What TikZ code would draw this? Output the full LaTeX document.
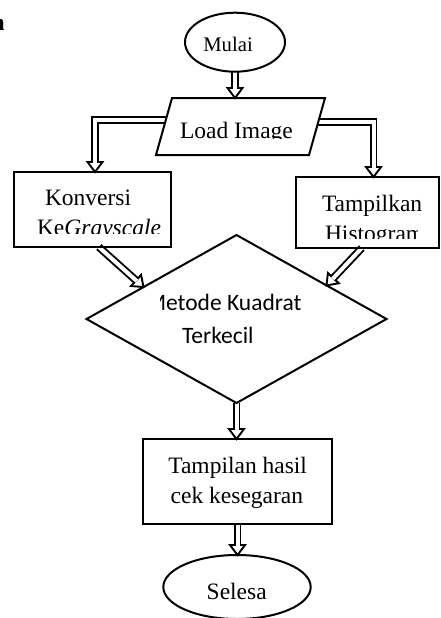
\documentclass[tikz,border=0pt]{standalone}
\usepackage{fontspec}
\setmainfont{Liberation Serif}
\newfontfamily\calib{Carlito}
\usetikzlibrary{calc,shapes.geometric,backgrounds}
\tikzset{
  shapeline/.style={draw, line width=2pt, inner sep=0pt, outer sep=0pt},
  boxnode/.style={shapeline, rectangle},
  ovalnode/.style={shapeline, ellipse},
  txt/.style={inner sep=0pt, outer sep=0pt, anchor=base west, font=\fontsize{23.5}{28}\selectfont},
  shaft/.style={double=white, double distance=4pt, line width=1.9pt, line join=miter},
  headstyle/.style={fill=white, draw=black, line width=1.9pt, line join=miter},
}
\newcommand\blk[3]{%
  \coordinate (hb) at ($(#2)!10pt!(#3)$);
  \filldraw[headstyle] ($(hb)!7.5pt!90:(#2)$) -- (#2) -- ($(hb)!7.5pt!-90:(#2)$) -- cycle;
  \draw[shaft] #1 -- ($(hb)!1pt!(#2)$);
}
\begin{document}
\begin{tikzpicture}[x=1pt,y=-1pt]
\useasboundingbox (0,0) rectangle (440,618);
% cut-off letter at top left
\node[txt, font=\bfseries\fontsize{23.5}{28}\selectfont] (nletter) at (-8.5,31) {n};
% Mulai
\node[ovalnode, minimum width=100pt, minimum height=59pt] (mulai) at (235,42.2) {};
\node[txt, font=\fontsize{20.7}{25}\selectfont] (tmulai) at (203.3,51.7) {Mulai};
% Load Image parallelogram
\coordinate (pTL) at (172,98);
\coordinate (pTR) at (325,98);
\coordinate (pBR) at (309,155);
\coordinate (pBL) at (156,155);
\draw[line width=2pt, line join=miter] (pTL) -- (pTR) -- (pBR) -- (pBL) -- cycle;
\begin{scope}
  \clip (150,100) rectangle (320,138.5);
  \node[txt] (tload) at (180,138.6) {Load Image};
\end{scope}
% Konversi
\node[boxnode, minimum width=157pt, minimum height=75pt] (konv) at (92.5,209.5) {};
\node[txt] (tkonv1) at (45,205) {Konversi};
\begin{scope}
  \clip (20,212) rectangle (168,233.8);
  \node[txt] (tkonv2) at (37,235.5) {Ke\textit{Grayscale}};
\end{scope}
% Tampilkan Histogram
\node[boxnode, minimum width=143pt, minimum height=71pt] (tamp) at (367.5,212.5) {};
\node[txt] (ttamp1) at (322,211) {Tampilkan};
\begin{scope}
  \clip (300,215) rectangle (417,238);
  \node[txt] (ttamp2) at (325,241) {Histogram};
\end{scope}
% Diamond
\node[shapeline, diamond, minimum width=300pt, minimum height=168pt] (dia) at (236.5,319) {};
\begin{scope}
  \clip (160.8,280) rectangle (330,318);
  \node[txt, font=\calib\fontsize{23.5}{28}\selectfont] (tdia1) at (146,310.7) {Metode Kuadrat};
\end{scope}
\node[txt, font=\calib\fontsize{23.5}{28}\selectfont] (tdia2) at (182,343.3) {Terkecil};
% Tampilan hasil
\node[boxnode, minimum width=189pt, minimum height=85pt] (res) at (237.5,481.5) {};
\node[txt] (tres1) at (168.3,473.3) {Tampilan hasil};
\node[txt] (tres2) at (170.7,503.3) {cek kesegaran};
% Selesa
\node[ovalnode, minimum width=147.4pt, minimum height=64pt] (sel) at (237,587) {};
\node[txt] (tsel) at (206.7,599) {Selesa};
% connectors
\begin{scope}[on background layer]
  \coordinate (tM) at (mulai.south |- pTL);
  \blk{(mulai.south)}{tM}{mulai.south}
  \coordinate (jL) at ($(pTL)!0.39!(pBL)$);
  \coordinate (xL) at (95,0);
  \coordinate (cL) at (jL -| xL);
  \coordinate (tL) at (xL |- konv.north);
  \blk{(jL) -- (cL)}{tL}{cL}
  \coordinate (jR) at ($(pTR)!0.42!(pBR)$);
  \coordinate (xR) at (373.5,0);
  \coordinate (cR) at (jR -| xR);
  \coordinate (tR) at (xR |- tamp.north);
  \blk{(jR) -- (cR)}{tR}{cR}
  \coordinate (sK) at ($(konv.south west)!0.54!(konv.south east)$);
  \coordinate (tK) at ($(dia.north)!0.62!(dia.west)$);
  \blk{(sK)}{tK}{sK}
  \coordinate (sT) at ($(tamp.south west)!0.46!(tamp.south east)$);
  \coordinate (tT) at ($(dia.north)!0.6!(dia.east)$);
  \blk{(sT)}{tT}{sT}
  \coordinate (tD) at (dia.south |- res.north);
  \blk{(dia.south)}{tD}{dia.south}
  \coordinate (tS) at (res.south |- sel.north);
  \blk{(res.south)}{tS}{res.south}
\end{scope}
\end{tikzpicture}
\end{document}
